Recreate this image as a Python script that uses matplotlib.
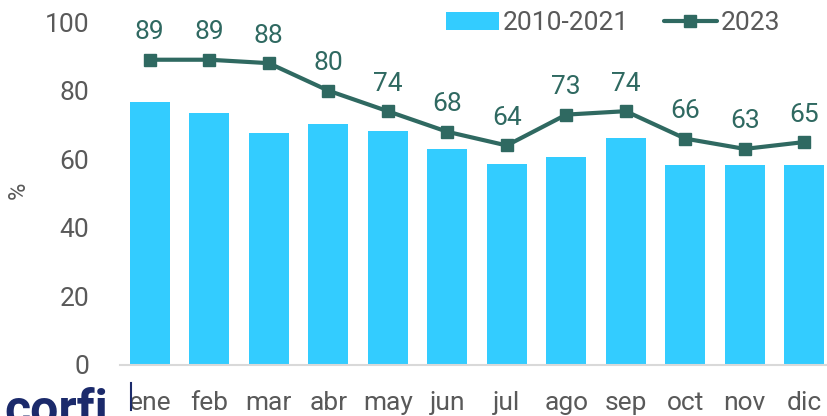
import numpy as np
import matplotlib.pyplot as plt
from matplotlib.lines import Line2D

plt.rcParams["font.family"] = ["Roboto", "DejaVu Sans"]

# data
months = ["ene", "feb", "mar", "abr", "may", "jun", "jul", "ago", "sep", "oct", "nov", "dic"]
hist_2010_2021 = [76.8, 73.6, 67.7, 70.4, 68.3, 63.1, 58.7, 60.6, 66.1, 58.4, 58.4, 58.4]
vals_2023 = [89, 89, 88, 80, 74, 68, 64, 73, 74, 66, 63, 65]

bar_color = "#33CCFF"
line_color = "#2F6961"
text_gray = "#595959"

fig = plt.figure(figsize=(8.28, 4.16), dpi=100)
ax = fig.add_axes([120 / 828, 51 / 416, 714 / 828, 343 / 416])

x = np.arange(len(months))
bars = ax.bar(x, hist_2010_2021, width=0.67, color=bar_color, label="2010-2021")
line, = ax.plot(x, vals_2023, color=line_color, lw=3, marker="s", markersize=9,
                label="2023", solid_capstyle="round")

# value labels for 2023
for xi, v in zip(x, vals_2023):
    ax.text(xi, v + 4.5, f"{v}", ha="center", va="bottom", fontsize=19,
            color=line_color, clip_on=False)

ax.set_xlim(-0.5, len(months) - 0.5)
ax.set_ylim(0, 100)
ax.set_yticks(range(0, 101, 20))
ax.set_xticks(x)
ax.set_xticklabels(months)
ax.tick_params(axis="both", length=0, labelsize=19, colors=text_gray)
ax.tick_params(axis="y", pad=22)
ax.tick_params(axis="x", pad=19)

for s in ["top", "right", "left"]:
    ax.spines[s].set_visible(False)
ax.spines["bottom"].set_color("#D9D9D9")
ax.spines["bottom"].set_linewidth(1.5)

fig.text(18 / 828, 1 - 190 / 416, "%", rotation=90, ha="center", va="center",
         fontsize=17, color=text_gray)

ax.legend([bars, line], ["2010-2021", "2023"], loc="center right",
          bbox_to_anchor=(780 / 828, 1 - 23 / 416),
          bbox_transform=fig.transFigure, ncol=2, frameon=False,
          fontsize=19, labelcolor=text_gray, handlelength=2.0,
          handletextpad=0.15, columnspacing=1.3, borderpad=0, borderaxespad=0)

# logo fragment bottom-left
fig.text(108 / 828, -9 / 416, "corfi", ha="right", va="baseline", fontsize=36,
         fontweight="bold", color="#1B2A6B")
fig.add_artist(Line2D([131 / 828, 131 / 828], [1 - 410 / 416, 1 - 383 / 416],
                      color="#1B2A6B", lw=1.5, transform=fig.transFigure))

fig.savefig("out.png", dpi=100)
